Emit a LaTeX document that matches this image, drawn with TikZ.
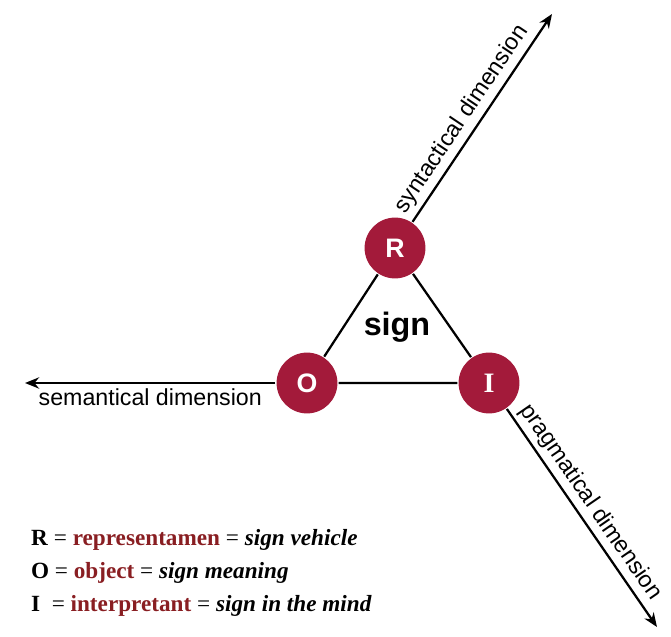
\documentclass[tikz,border=0pt]{standalone}
\usepackage{fontspec}
\setmainfont{Liberation Serif}
\setsansfont{Liberation Sans}
\usetikzlibrary{arrows.meta}
\definecolor{signred}{RGB}{163,26,58}
\definecolor{termred}{RGB}{137,30,34}
\tikzset{
  vertex/.style={circle, fill=signred, minimum size=1.52cm, inner sep=0pt,
    text=white, font=\sffamily\bfseries\fontsize{19}{19}\selectfont},
  dimlabel/.style={sloped, font=\sffamily\fontsize{16.5}{16.5}\selectfont, inner sep=3pt},
  legend/.style={anchor=base west, inner sep=0pt, font=\bfseries\fontsize{16.5}{16.5}\selectfont}
}
\newcommand{\term}[1]{\textcolor{termred}{#1}}
\newcommand{\eqs}{\textmd{=}}
\begin{document}
\begin{tikzpicture}[x=0.025cm, y=-0.025cm, >={Stealth[length=10pt,width=8pt]}, line width=1.6pt]
    \useasboundingbox (0,0) rectangle (671,637);

    % the three corners of the sign
    \node[vertex] (R) at (395,248) {R};
    \node[vertex] (O) at (307,383) {O};
    \node[vertex, font=\rmfamily\bfseries\fontsize{20}{20}\selectfont] (I) at (489,383) {I};
    \draw (R) -- (O) -- (I) -- (R);
    \node[font=\sffamily\bfseries\fontsize{23}{23}\selectfont] (sign) at (397,327) {sign};

    % dimensions
    \coordinate (syn) at (552,14);
    \coordinate (sem) at (25,383);
    \coordinate (prag) at (657,627);
    \draw[->] (R) -- (syn) node[dimlabel, pos=0.45, above] {syntactical dimension};
    \draw[->] (O) -- (sem) node[dimlabel, midway, below] {semantical dimension};
    \draw[->] (I) -- (prag) node[dimlabel, pos=0.47, above] {pragmatical dimension};

    % legend
    \node[legend] (lr) at (30,545) {R \eqs{} \term{representamen} \eqs{} \textit{sign vehicle}};
    \node[legend] (lo) at (30,578) {O \eqs{} \term{object} \eqs{} \textit{sign meaning}};
    \node[legend] (li) at (30,611) {I \ \eqs{} \term{interpretant} \eqs{} \textit{sign in the mind}};
  \end{tikzpicture}
\end{document}
